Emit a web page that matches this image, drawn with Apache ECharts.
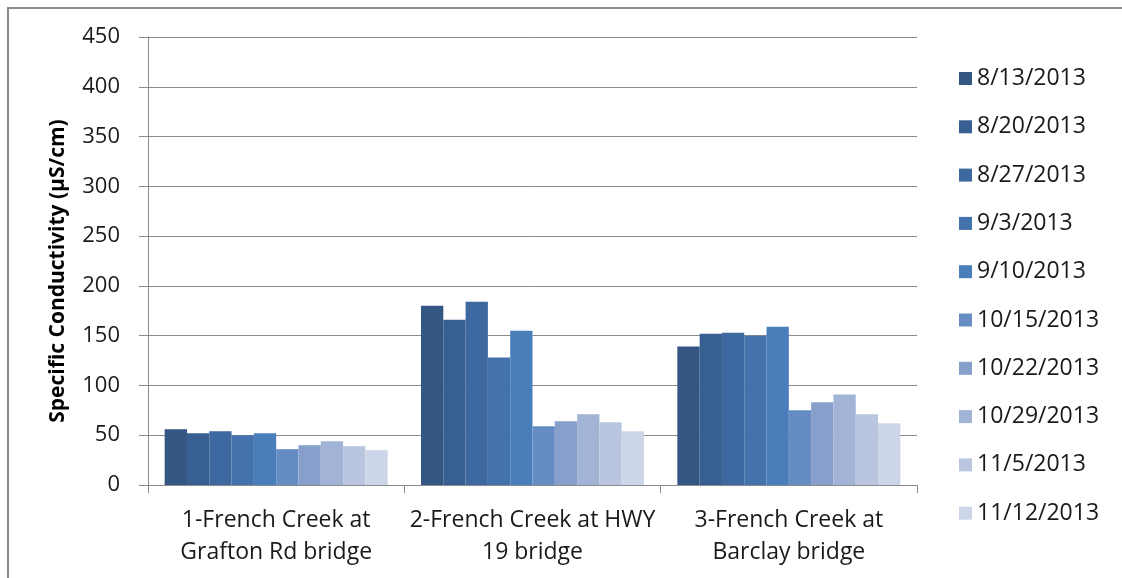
<!DOCTYPE html>
<html><head><meta charset="utf-8">
<script src="https://cdn.jsdelivr.net/npm/echarts@6/dist/echarts.min.js"></script>
<style>html,body{margin:0;padding:0;background:#fff}#c{width:1122px;height:578px}</style>
</head><body><div id="c"></div>
<script>
const categories = ['1-French Creek at\nGrafton Rd bridge', '2-French Creek at HWY\n19 bridge', '3-French Creek at\nBarclay bridge'];
const dates = ['8/13/2013','8/20/2013','8/27/2013','9/3/2013','9/10/2013','10/15/2013','10/22/2013','10/29/2013','11/5/2013','11/12/2013'];
const v_0813 = [56, 180, 139];
const v_0820 = [52, 166, 152];
const v_0827 = [54, 184, 153];
const v_0903 = [50, 128, 150];
const v_0910 = [52, 155, 159];
const v_1015 = [36, 59, 75];
const v_1022 = [40, 64, 83];
const v_1029 = [44, 71, 91];
const v_1105 = [39, 63, 71];
const v_1112 = [35, 54, 62];
const seriesValues = [v_0813, v_0820, v_0827, v_0903, v_0910, v_1015, v_1022, v_1029, v_1105, v_1112];
const colors = ['#335682','#385F91','#3E69A0','#4372AC','#4A7EBB','#658DC3','#87A0CB','#A2B4D6','#BAC6DF','#CDD6E8'];
const yTicks = [0,50,100,150,200,250,300,350,400,450];

const FONT = '"Open Sans", sans-serif';
const chart = echarts.init(document.getElementById('c'));
chart.setOption({
  animation: false,
  color: colors,
  textStyle: {fontFamily: FONT},
  graphic: [{
    type: 'rect', shape: {x: 8, y: 8, width: 1200, height: 700},
    style: {fill: 'none', stroke: '#8a8a8a', lineWidth: 2}, silent: true
  }],
  grid: {left: 148, right: 205, top: 37, bottom: 93},
  legend: {
    orient: 'vertical', left: 954, top: 62,
    itemWidth: 13, itemHeight: 13, itemGap: 25.3,
    icon: 'rect',
    textStyle: {fontFamily: FONT, fontSize: 23, lineHeight: 23, color: '#1a1a1a'},
    data: dates
  },
  xAxis: {
    type: 'category', data: categories,
    axisLine: {lineStyle: {color: '#8a8a8a', width: 1}},
    axisTick: {show: true, length: 8, lineStyle: {color: '#8a8a8a'}, alignWithLabel: false},
    axisLabel: {fontFamily: FONT, fontSize: 23, lineHeight: 32, color: '#1a1a1a', margin: 19, interval: 0}
  },
  yAxis: {
    type: 'value', min: 0, max: 450, interval: 50,
    name: 'Specific Conductivity (µS/cm)', nameLocation: 'middle', nameGap: 79,
    nameTextStyle: {fontFamily: FONT, fontSize: 21, fontWeight: 'bold', color: '#000', padding: [0, 20, 0, 0]},
    axisLine: {show: true, lineStyle: {color: '#8a8a8a'}},
    axisTick: {show: true, length: 9, lineStyle: {color: '#8a8a8a'}},
    axisLabel: {fontFamily: FONT, fontSize: 22, color: '#1a1a1a', margin: 28,
      formatter: v => yTicks.includes(v) ? String(v) : ''},
    splitLine: {lineStyle: {color: '#8a8a8a', width: 1}}
  },
  series: dates.map((d, i) => ({
    name: d, type: 'bar', data: seriesValues[i],
    barGap: '0%', barCategoryGap: '13%',
    itemStyle: {color: colors[i]}
  }))
});
</script></body></html>
